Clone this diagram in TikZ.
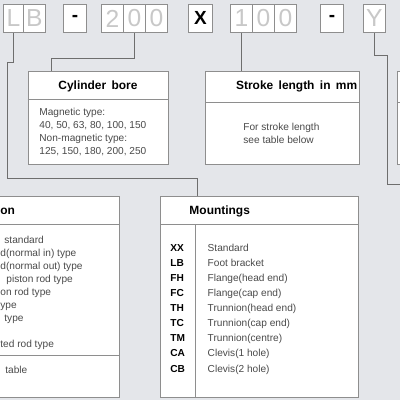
\documentclass[tikz,border=0pt]{standalone}
\usepackage{fontspec}
\setmainfont{Liberation Sans}
\usepackage{tikz}
\usetikzlibrary{positioning, calc}
\definecolor{bggray}{HTML}{E4E6EA}
\definecolor{framegray}{HTML}{8E8E8E}
\definecolor{linegray}{HTML}{6E6E6E}
\definecolor{fadegray}{HTML}{C8C8C8}
\definecolor{textgray}{HTML}{4A4A4A}
\tikzstyle{cell} = [draw=framegray, fill=white, minimum width=0.55cm, minimum height=0.7cm, inner sep=0pt, anchor=north west, text=fadegray, font=\fontsize{17.5}{17.5}\selectfont]
\tikzstyle{sign} = [cell, text=black, font=\bfseries\fontsize{13.5}{13.5}\selectfont]
\tikzstyle{panel} = [draw=framegray, fill=white, inner sep=0pt, anchor=north west]
\tikzstyle{head} = [inner sep=0pt, font=\bfseries\fontsize{8.5}{10}\selectfont]
\tikzstyle{body} = [anchor=mid west, inner sep=0pt, text=textgray, font=\fontsize{7.2}{8}\selectfont]
\tikzstyle{code} = [anchor=mid west, inner sep=0pt, font=\bfseries\fontsize{7.2}{8}\selectfont]
\tikzstyle{frame} = [draw=framegray, line width=0.6pt]
\tikzstyle{link} = [draw=linegray, line width=0.6pt]

\begin{document}
\begin{tikzpicture}[x=0.025cm, y=-0.025cm, line width=0.6pt]
    \useasboundingbox (0,0) rectangle (400,400);
    \clip (0,0) rectangle (400,400);
    \fill [bggray] (0,0) rectangle (400,400);

    % Order code
    \node (cL) [cell, minimum width=0.5cm] at (3,4) {L};
    \node (cB) [cell] at (23,4) {B};
    \node (dash1) [sign, minimum width=0.575cm] at (63,4) {-};
    \node (c200a) [cell] at (101,4) {2};
    \node (c200b) [cell] at (123,4) {0};
    \node (c200c) [cell] at (145,4) {0};
    \node (cX) [sign, minimum width=0.6cm] at (188,4) {X};
    \node (c100a) [cell] at (230,4) {1};
    \node (c100b) [cell] at (252,4) {0};
    \node (c100c) [cell] at (274,4) {0};
    \node (dash2) [sign, minimum width=0.575cm] at (320,4) {-};
    \node (cY) [cell] at (363,4) {Y};

    % Cylinder bore
    \node (bore) [panel, minimum width=3.515cm, minimum height=2.325cm] at (27.7,71) {};
    \draw [frame] (bore.west |- 0,99) -- (bore.east |- 0,99);
    \node (boretitle) [head] at (98,86) {Cylinder\hskip0.45em bore};
    \node (bore1) [body] at (39,111.5) {Magnetic type:};
    \node (bore2) [body] at (39,124.5) {40, 50, 63, 80, 100, 150};
    \node (bore3) [body] at (39,137.5) {Non-magnetic type:};
    \node (bore4) [body] at (39,150.5) {125, 150, 180, 200, 250};

    % Stroke length
    \node (stroke) [panel, minimum width=3.858cm, minimum height=2.325cm] at (205,71) {};
    \draw [frame] (stroke.west |- 0,102) -- (stroke.east |- 0,102);
    \node (stroketitle) [head, anchor=mid west] at (235.7,86) {Stroke\hskip0.45em length\hskip0.45em in\hskip0.45em mm};
    \node (stroke1) [body] at (243,126.7) {For stroke length};
    \node (stroke2) [body] at (243,140) {see table below};

    % Box at right edge
    \node (extra) [panel, minimum width=0.5cm, minimum height=2.325cm] at (397,71) {};
    \draw [frame] (extra.west |- 0,102) -- (extra.east |- 0,102);

    % Option box
    \node (opt) [panel, minimum width=3.108cm, minimum height=5.025cm] at (-5,195.7) {};
    \draw [frame] (opt.west |- 0,224) -- (opt.east |- 0,224);
    \draw [frame] (opt.west |- 0,355.7) -- (opt.east |- 0,355.7);
    \node (opttitle) [head, anchor=mid west] at (0,210.7) {on};
    \node (opt1) [body] at (4,239.3) {standard};
    \node (opt2) [body] at (0,252.7) {d(normal in) type};
    \node (opt3) [body] at (0,265.7) {d(normal out) type};
    \node (opt4) [body] at (6,279) {piston rod type};
    \node (opt5) [body] at (0,291.7) {on rod type};
    \node (opt6) [body] at (0,305) {ype};
    \node (opt7) [body] at (4,317.7) {type};
    \node (opt8) [body] at (0,344) {ted rod type};
    \node (opt9) [body] at (5,370) {table};

    % Mountings
    \node (mount) [panel, minimum width=4.958cm, minimum height=5.04cm] at (160,195.7) {};
    \draw [frame] (mount.west |- 0,224) -- (mount.east |- 0,224);
    \draw [frame] (195,224) -- (mount.south -| 195,0);
    \node (mounttitle) [head] at (219.7,211) {Mountings};
    \node (m1c) [code] at (170,247.3) {XX};
    \node (m1t) [body] at (207.3,247.3) {Standard};
    \node (m2c) [code] at (170,262.3) {LB};
    \node (m2t) [body] at (207.3,262.3) {Foot bracket};
    \node (m3c) [code] at (170,277.3) {FH};
    \node (m3t) [body] at (207.3,277.3) {Flange(head end)};
    \node (m4c) [code] at (170,292.3) {FC};
    \node (m4t) [body] at (207.3,292.3) {Flange(cap end)};
    \node (m5c) [code] at (170,307.3) {TH};
    \node (m5t) [body] at (207.3,307.3) {Trunnion(head end)};
    \node (m6c) [code] at (170,322.5) {TC};
    \node (m6t) [body] at (207.3,322.5) {Trunnion(cap end)};
    \node (m7c) [code] at (170,337.7) {TM};
    \node (m7t) [body] at (207.3,337.7) {Trunnion(centre)};
    \node (m8c) [code] at (170,353) {CA};
    \node (m8t) [body] at (207.3,353) {Clevis(1 hole)};
    \node (m9c) [code] at (170,368.3) {CB};
    \node (m9t) [body] at (207.3,368.3) {Clevis(2 hole)};

    % Connections
    \coordinate (lknee1) at (7,62);
    \coordinate (lknee2) at (197,178);
    \draw [link] (cL.south) |- (lknee1) |- (lknee2) -- (mount.north -| lknee2);
    \coordinate (boreknee) at (51.7,58.7);
    \draw [link] (c200b.south) |- (boreknee) -- (bore.north -| boreknee);
    \draw [link] (c100a.south) -- (stroke.north -| c100a.south);
    \coordinate (yknee) at (387,55);
    \coordinate (yend) at (404,184);
    \draw [link] (cY.south) |- (yknee) |- (yend);
\end{tikzpicture}
\end{document}
